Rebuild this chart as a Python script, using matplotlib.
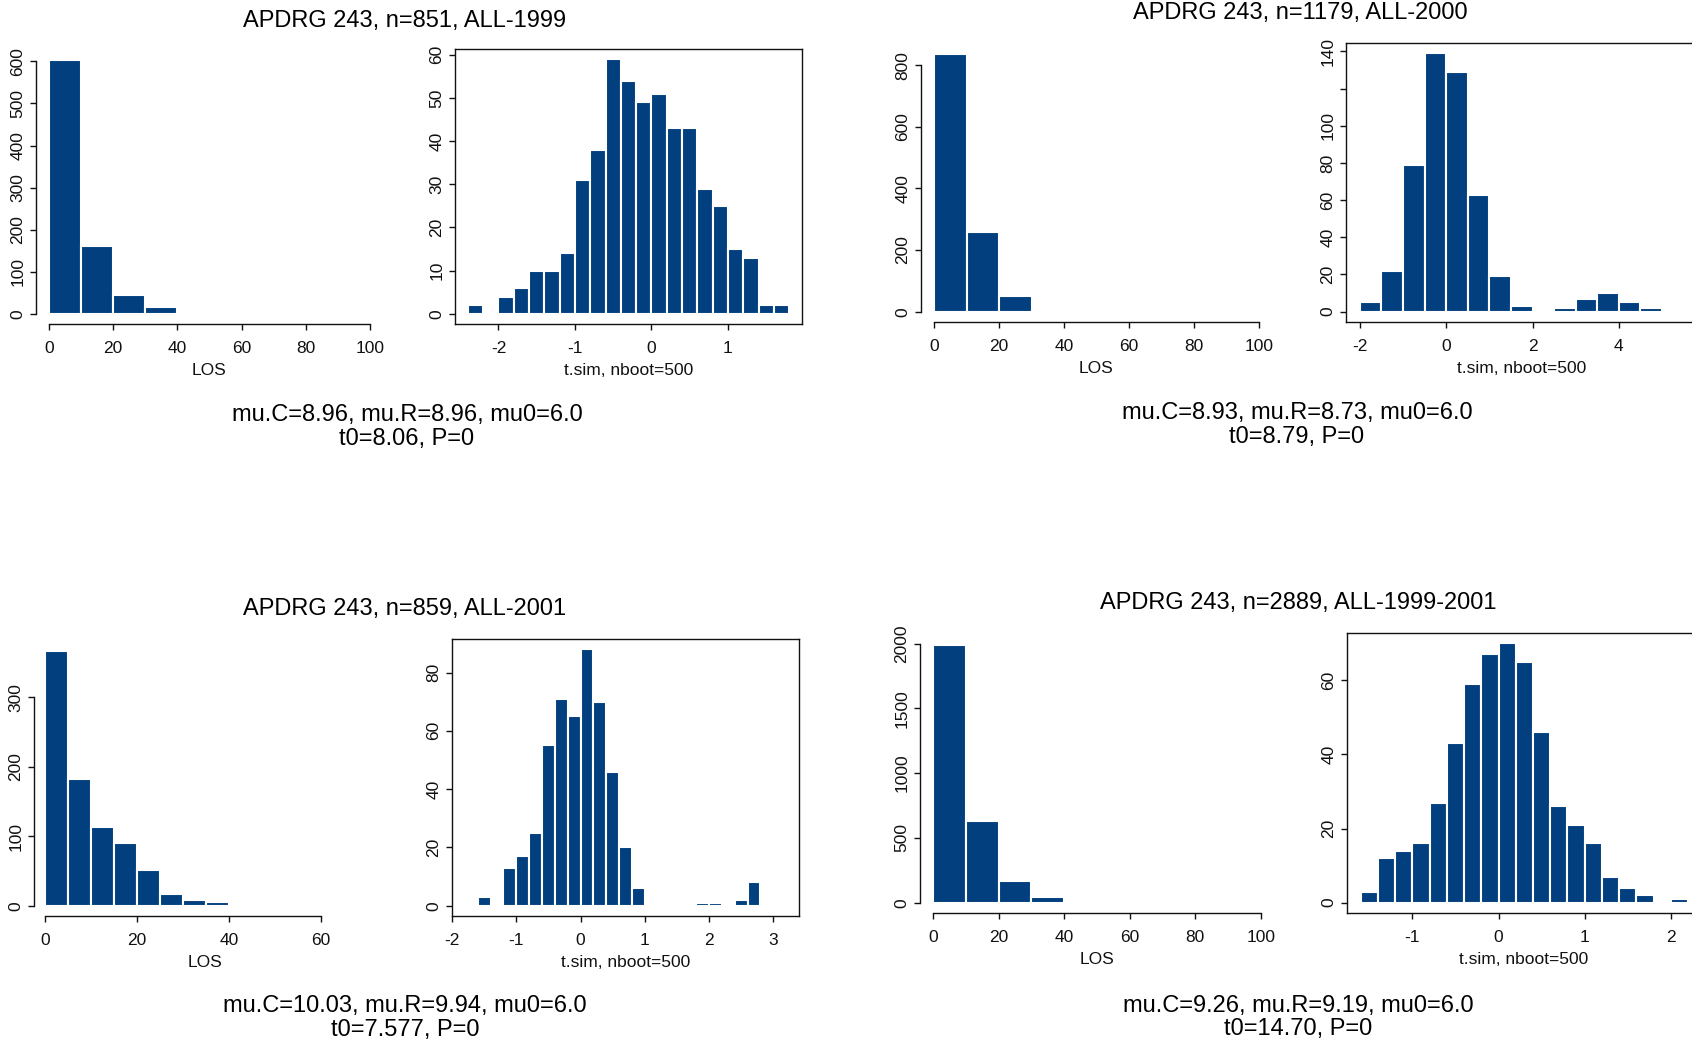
import numpy as np
import matplotlib
matplotlib.use("Agg")
import matplotlib.pyplot as plt

plt.rcParams['font.family'] = ['Liberation Sans', 'DejaVu Sans']
plt.rcParams['axes.unicode_minus'] = False

W, H = 1692, 1042
BAR = '#023f7f'

# ---- data (bin start, bin width, counts) ----
titles = ["APDRG 243, n=851, ALL-1999", "APDRG 243, n=1179, ALL-2000",
          "APDRG 243, n=859, ALL-2001", "APDRG 243, n=2889, ALL-1999-2001"]
notes = [("mu.C=8.96, mu.R=8.96, mu0=6.0", "t0=8.06, P=0"),
         ("mu.C=8.93, mu.R=8.73, mu0=6.0", "t0=8.79, P=0"),
         ("mu.C=10.03, mu.R=9.94, mu0=6.0", "t0=7.577, P=0"),
         ("mu.C=9.26, mu.R=9.19, mu0=6.0", "t0=14.70, P=0")]

los_1999_start, los_1999_width = 0, 10
los_1999_counts = [603, 162, 45, 16, 2, 0, 0, 0, 0, 1]
los_2000_start, los_2000_width = 0, 10
los_2000_counts = [835, 257, 51, 7, 2, 0, 0, 1, 0, 1]
los_2001_start, los_2001_width = 0, 5
los_2001_counts = [366, 183, 113, 91, 51, 17, 9, 6, 2, 1, 0, 1]
los_all_start, los_all_width = 0, 10
los_all_counts = [1987, 628, 166, 43, 7, 2, 2, 1, 1, 1]

t_1999_start, t_1999_width = -2.4, 0.2
t_1999_counts = [2, 0, 4, 6, 10, 10, 14, 31, 38, 59, 54, 49, 51, 43, 43, 29, 25, 15, 13, 2, 2]
t_2000_start, t_2000_width = -2.0, 0.5
t_2000_counts = [5, 22, 79, 139, 129, 63, 19, 3, 0, 2, 7, 10, 5, 2, 0, 0]
t_2001_start, t_2001_width = -1.8, 0.2
t_2001_counts = [0, 3, 0, 13, 17, 25, 55, 71, 65, 88, 70, 46, 20, 6, 0, 0, 0, 0, 1, 1, 0, 2, 8, 0, 0]
t_all_start, t_all_width = -1.6, 0.2
t_all_counts = [3, 12, 14, 16, 27, 43, 59, 67, 70, 65, 46, 26, 21, 16, 7, 4, 2, 0, 1, 0]

los_xticks = [[0, 20, 40, 60, 80, 100], [0, 20, 40, 60, 80, 100], [0, 20, 40, 60], [0, 20, 40, 60, 80, 100]]
los_yticks = [[0, 100, 200, 300, 400, 500, 600], [0, 200, 400, 600, 800], [0, 100, 200, 300], [0, 500, 1000, 1500, 2000]]
t_xticks = [[-2, -1, 0, 1], [-2, 0, 2, 4], [-2, -1, 0, 1, 2, 3], [-1, 0, 1, 2]]
t_yticks = [[0, 10, 20, 30, 40, 50, 60], [0, 20, 40, 60, 80, 100, 120, 140], [0, 20, 40, 60, 80], [0, 20, 40, 60]]
t_yticklabels = [None, ["0", "20", "40", "60", "80", "100", "", "140"], None, None]

# ---- layout in pixels (x0, y0, x1, y1) ----
los_boxes = [(36, 50, 383, 324), (921, 44, 1272, 322), (34, 641, 332, 916), (920, 635, 1274, 913)]
t_boxes = [(455, 49, 802, 324), (1346, 43, 1719, 322), (452, 639, 799, 916), (1347, 633, 1719, 913)]
los_label_x = [209, 1096, 205, 1097]
t_label_x = [629, 1522, 626, 1524]
title_pos = [(405, 26.7), (1300, 19), (405, 615), (1298, 608.5)]
note_pos = [(407, 420.5, 444.5), (1297, 419.5, 442.5), (405, 1012, 1036), (1298, 1012, 1035)]


def px_axes(fig, box):
    x0, y0, x1, y1 = box
    return fig.add_axes([x0 / W, 1 - y1 / H, (x1 - x0) / W, (y1 - y0) / H])


def draw_hist(ax, start, width, counts, xticks, yticks, ylabels, xlabel, boxed):
    n = len(counts)
    edges = start + width * np.arange(n + 1)
    ax.bar(edges[:-1], counts, width=width, align='edge', color=BAR,
           edgecolor='white', linewidth=1.5)
    pad = 0.04 * (edges[-1] - edges[0])
    ax.set_xlim(edges[0] - pad, edges[-1] + pad)
    top = max(counts)
    ax.set_ylim(-0.04 * top, 1.04 * top)
    ax.set_xticks(xticks)
    ax.set_yticks(yticks)
    if ylabels is not None:
        ax.set_yticklabels(ylabels)
    ax.tick_params(direction='out', length=4.5, width=1.0, labelsize=12.5, colors='#111111')
    ax.tick_params(axis='x', pad=8)
    ax.tick_params(axis='y', pad=3, labelrotation=90)
    for lab in ax.get_yticklabels():
        lab.set_va('center')
    ax.set_xlabel(xlabel, fontsize=12.5, labelpad=5, color='#111111')
    for s in ax.spines.values():
        s.set_linewidth(1.0)
        s.set_color('#111111')
    if not boxed:
        ax.spines['top'].set_visible(False)
        ax.spines['right'].set_visible(False)
        ax.spines['left'].set_bounds(yticks[0], yticks[-1])
        ax.spines['bottom'].set_bounds(xticks[0], xticks[-1])


def center_label(fig, ax, box, x_px):
    # move the x label horizontally, keep its vertical place
    fig.canvas.draw()
    lab = ax.xaxis.label
    y_disp = lab.get_window_extent().y0
    x0, y0, x1, y1 = box
    lab.set_x((x_px - x0) / (x1 - x0))
    ax.xaxis.set_label_coords((x_px - x0) / (x1 - x0),
                              ax.transAxes.inverted().transform((0, y_disp))[1])
    lab.set_va('bottom')


fig = plt.figure(figsize=(W / 100, H / 100), dpi=100)

los_sets = [(los_1999_start, los_1999_width, los_1999_counts),
            (los_2000_start, los_2000_width, los_2000_counts),
            (los_2001_start, los_2001_width, los_2001_counts),
            (los_all_start, los_all_width, los_all_counts)]
t_sets = [(t_1999_start, t_1999_width, t_1999_counts),
          (t_2000_start, t_2000_width, t_2000_counts),
          (t_2001_start, t_2001_width, t_2001_counts),
          (t_all_start, t_all_width, t_all_counts)]

all_axes = []
for i in range(4):
    ax = px_axes(fig, los_boxes[i])
    s, w, c = los_sets[i]
    draw_hist(ax, s, w, c, los_xticks[i], los_yticks[i], None, "LOS", False)
    all_axes.append((ax, los_boxes[i], los_label_x[i]))

    ax = px_axes(fig, t_boxes[i])
    s, w, c = t_sets[i]
    draw_hist(ax, s, w, c, t_xticks[i], t_yticks[i], t_yticklabels[i], "t.sim, nboot=500", True)
    all_axes.append((ax, t_boxes[i], t_label_x[i]))

    tx, ty = title_pos[i]
    fig.text(tx / W, 1 - ty / H, titles[i], ha='center', va='baseline', fontsize=17)
    nx, ny1, ny2 = note_pos[i]
    fig.text(nx / W, 1 - ny1 / H, notes[i][0], ha='center', va='baseline', fontsize=17)
    fig.text(nx / W, 1 - ny2 / H, notes[i][1], ha='center', va='baseline', fontsize=17)

for ax, box, x_px in all_axes:
    center_label(fig, ax, box, x_px)

fig.savefig("out.png", dpi=100)
